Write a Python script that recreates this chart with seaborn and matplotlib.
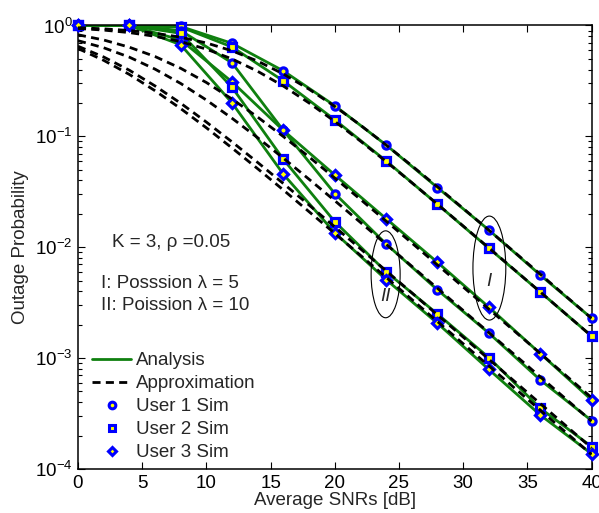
import numpy as np
import pandas as pd
import matplotlib
matplotlib.use("Agg")
import matplotlib.pyplot as plt
import seaborn as sns
from matplotlib.patches import Ellipse
from matplotlib.lines import Line2D
from matplotlib.ticker import NullLocator, LogLocator

# ---------------- data ----------------
snr_sim = [0, 4, 8, 12, 16, 20, 24, 28, 32, 36, 40]
# Poisson lambda = 5 (group I)
u1_l5 = [1.0, 1.0, 0.98, 0.69, 0.389, 0.189, 0.0836, 0.0345, 0.0143, 0.00562, 0.00229]
u2_l5 = [1.0, 1.0, 0.97, 0.64, 0.316, 0.141, 0.060, 0.0244, 0.0098, 0.00395, 0.00158]
u3_l5 = [1.0, 1.0, 0.74, 0.31, 0.113, 0.0449, 0.0181, 0.0073, 0.00288, 0.0011, 0.00042]
# Poisson lambda = 10 (group II)
u1_l10 = [1.0, 1.0, 0.90, 0.46, 0.113, 0.0305, 0.0107, 0.00412, 0.00168, 0.000636, 0.000273]
u2_l10 = [1.0, 1.0, 0.85, 0.277, 0.062, 0.017, 0.0060, 0.0025, 0.00101, 0.000353, 0.000159]
u3_l10 = [1.0, 1.0, 0.67, 0.20, 0.0455, 0.0135, 0.0051, 0.00206, 0.00079, 0.000307, 0.000137]

snr_apx = [0, 2, 4, 6, 8, 10, 12, 14, 16, 18, 20, 22, 24, 26, 28, 30, 32, 34, 36, 38, 40]
apx_u1_l5 = [0.955, 0.933, 0.901, 0.852, 0.784, 0.696, 0.591, 0.477, 0.365, 0.266, 0.1863, 0.1262,
             0.0835, 0.0544, 0.0350, 0.0224, 0.01424, 0.00903, 0.00572, 0.003616, 0.002285]
apx_u2_l5 = [0.94, 0.909, 0.863, 0.799, 0.715, 0.612, 0.499, 0.386, 0.284, 0.200, 0.1364, 0.0906,
             0.0592, 0.0382, 0.02443, 0.01555, 0.00987, 0.00625, 0.003953, 0.002498, 0.001578]
apx_u3_l5 = [0.825, 0.74, 0.637, 0.525, 0.411, 0.306, 0.217, 0.149, 0.0995, 0.0652, 0.0421, 0.0270,
             0.01721, 0.01093, 0.00692, 0.00438, 0.00277, 0.001749, 0.001104, 0.000697, 0.00044]
apx_u1_l10 = [0.73, 0.63, 0.518, 0.404, 0.300, 0.2126, 0.1456, 0.0971, 0.0635, 0.0410, 0.0263, 0.01675,
              0.01063, 0.00674, 0.00426, 0.00269, 0.00170, 0.001074, 0.000678, 0.000428, 0.00027]
apx_u2_l10 = [0.65, 0.52, 0.395, 0.285, 0.199, 0.1345, 0.0891, 0.0581, 0.0375, 0.0240, 0.01526, 0.00968,
              0.00613, 0.00388, 0.00245, 0.001548, 0.000977, 0.000617, 0.000389, 0.0002456, 0.000155]
apx_u3_l10 = [0.62, 0.485, 0.362, 0.258, 0.178, 0.1195, 0.0785, 0.0510, 0.0328, 0.0209, 0.01332, 0.00845,
              0.00535, 0.00338, 0.002135, 0.001348, 0.000851, 0.000537, 0.000339, 0.000214, 0.000135]

sim_series = [(u1_l5, "o"), (u2_l5, "s"), (u3_l5, "D"),
              (u1_l10, "o"), (u2_l10, "s"), (u3_l10, "D")]
apx_series = [apx_u1_l5, apx_u2_l5, apx_u3_l5, apx_u1_l10, apx_u2_l10, apx_u3_l10]

legend_labels = ["Analysis", "Approximation", "User 1 Sim", "User 2 Sim", "User 3 Sim"]

# ---------------- style ----------------
sns.set_style("ticks")
plt.rcParams["font.family"] = ["Liberation Sans", "DejaVu Sans"]
plt.rcParams["mathtext.fontset"] = "custom"
plt.rcParams["mathtext.rm"] = "Liberation Sans"
plt.rcParams["mathtext.it"] = "Liberation Sans:italic"
plt.rcParams["mathtext.bf"] = "Liberation Sans:bold"

GREEN = "#0f800f"
BLUE = "#0000ff"
YELLOW = "#ffff00"
FS = 13.5
DASH = (0, (2.9, 1.9))

fig = plt.figure(figsize=(5.99, 5.13), dpi=100)
ax = fig.add_axes([0.1302, 0.0858, 0.8574, 0.8645])

# analysis lines
for vals, mk in sim_series:
    sns.lineplot(x=snr_sim, y=vals, ax=ax, color=GREEN, linewidth=2.0,
                 estimator=None, sort=False, zorder=2)

# simulation markers
for vals, mk in sim_series:
    ms = 5.2 if mk != "D" else 5.0
    sns.lineplot(x=snr_sim, y=vals, ax=ax, estimator=None, sort=False,
                 linestyle="none", marker=mk, markersize=ms,
                 markerfacecolor=YELLOW, markeredgecolor=BLUE,
                 markeredgewidth=2.3, zorder=3, clip_on=False)

# approximation lines
for vals in apx_series:
    sns.lineplot(x=snr_apx, y=vals, ax=ax, color="black", linewidth=2.0,
                 linestyle=DASH, estimator=None, sort=False, zorder=4)

ax.set_yscale("log")
ax.set_xlim(0, 40)
ax.set_ylim(1e-4, 1)
ax.set_xticks(range(0, 41, 5))
ax.xaxis.set_minor_locator(NullLocator())
ax.yaxis.set_major_locator(LogLocator(base=10, numticks=10))
ax.yaxis.set_minor_locator(LogLocator(base=10, subs=np.arange(2, 10), numticks=10))

for sp in ax.spines.values():
    sp.set_visible(True)
    sp.set_linewidth(1.1)
    sp.set_color("black")

ax.tick_params(which="both", direction="in", top=True, right=True,
               labelsize=FS, colors="black", width=0.8)
ax.tick_params(which="major", length=5, pad=4)
ax.tick_params(which="minor", length=3)

ax.set_xlabel("Average SNRs [dB]", fontsize=FS, labelpad=0)
ax.set_ylabel("Outage Probability", fontsize=FS, labelpad=4)

# annotations
ax.text(0.066, 0.51, "K = 3, \u03c1 =0.05", transform=ax.transAxes, fontsize=FS,
        va="center", ha="left")
ax.text(0.045, 0.419, "I: Posssion \u03bb = 5", transform=ax.transAxes, fontsize=FS,
        va="center", ha="left")
ax.text(0.045, 0.368, "II: Poission \u03bb = 10", transform=ax.transAxes, fontsize=FS,
        va="center", ha="left")

ax.add_patch(Ellipse((0.801, 0.453), 0.064, 0.2345, transform=ax.transAxes,
                     fill=False, edgecolor="black", linewidth=0.8, zorder=5))
ax.add_patch(Ellipse((0.599, 0.439), 0.0565, 0.196, transform=ax.transAxes,
                     fill=False, edgecolor="black", linewidth=0.8, zorder=5))
ax.text(0.801, 0.422, "I", transform=ax.transAxes, fontsize=FS, style="italic",
        ha="center", va="center")
ax.text(0.599, 0.389, "II", transform=ax.transAxes, fontsize=FS, style="italic",
        ha="center", va="center")

# legend
handles = [
    Line2D([], [], color=GREEN, linewidth=2.0),
    Line2D([], [], color="black", linewidth=2.0, linestyle=DASH),
    Line2D([], [], linestyle="none", marker="o", markersize=4.8,
           markerfacecolor=YELLOW, markeredgecolor=BLUE, markeredgewidth=2.2),
    Line2D([], [], linestyle="none", marker="s", markersize=4.6,
           markerfacecolor=YELLOW, markeredgecolor=BLUE, markeredgewidth=2.2),
    Line2D([], [], linestyle="none", marker="D", markersize=4.4,
           markerfacecolor=YELLOW, markeredgecolor=BLUE, markeredgewidth=2.2),
]
leg = ax.legend(handles, legend_labels, loc="upper left", bbox_to_anchor=(0.027, 0.263),
                frameon=False, fontsize=FS, handlelength=2.1, handletextpad=0.25,
                labelspacing=0.31, borderpad=0, borderaxespad=0)

fig.savefig("out.png", dpi=100)
